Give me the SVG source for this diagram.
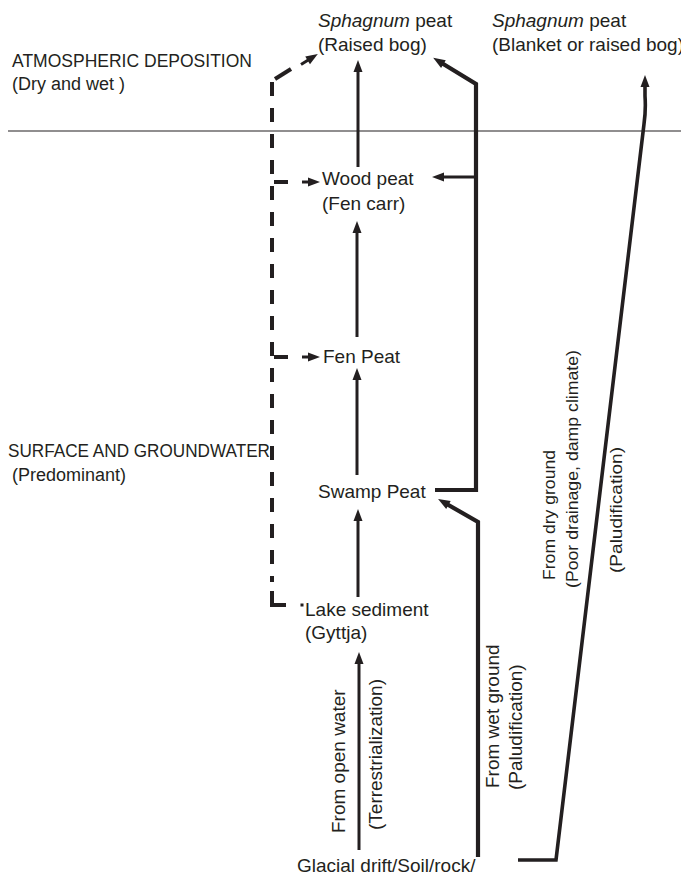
<svg xmlns="http://www.w3.org/2000/svg" width="681" height="881" viewBox="0 0 681 881">
<defs>
<style>
text{font-family:"Liberation Sans",Arial,sans-serif;fill:#231f20}
.n{font-size:19px}
.h{font-size:18px}
.r{font-size:19px}
.c{font-size:17px}
.it{font-style:italic}
.ln{fill:none;stroke:#231f20;stroke-linejoin:miter}
.a{stroke-width:3}
.t{stroke-width:4.2}
.s{stroke-width:4}
.d{stroke-width:4;stroke-dasharray:14 12}
</style>
<marker id="ah" markerUnits="userSpaceOnUse" markerWidth="13" markerHeight="10" refX="4" refY="4.5" orient="auto" overflow="visible">
<path d="M0,0 L12,4.5 L0,9 Z" fill="#231f20"/>
</marker>
</defs>
<rect width="681" height="881" fill="#fff"/>
<line x1="8" y1="131" x2="681" y2="131" stroke="#231f20" stroke-width="1.2"/>

<g id="labels">
<text class="h" x="12" y="67" textLength="240" lengthAdjust="spacingAndGlyphs">ATMOSPHERIC DEPOSITION</text>
<text class="h" x="12" y="90">(Dry and wet )</text>
<text class="h" x="8" y="457" textLength="262" lengthAdjust="spacingAndGlyphs">SURFACE AND GROUNDWATER</text>
<text class="h" x="12" y="481">(Predominant)</text>
</g>

<g id="raised-bog">
<text class="n" x="318" y="27"><tspan class="it">Sphagnum</tspan> peat</text>
<text class="n" x="318" y="51">(Raised bog)</text>
</g>
<g id="blanket-bog">
<text class="n" x="492" y="27"><tspan class="it">Sphagnum</tspan> peat</text>
<text class="n" x="492" y="51" textLength="192" lengthAdjust="spacingAndGlyphs">(Blanket or raised bog)</text>
</g>
<g id="wood-peat">
<text class="n" x="322" y="185">Wood peat</text>
<text class="n" x="322" y="210">(Fen carr)</text>
</g>
<g id="fen-peat">
<text class="n" x="323" y="363">Fen Peat</text>
</g>
<g id="swamp-peat">
<text class="n" x="318" y="498">Swamp Peat</text>
</g>
<g id="lake-sediment">
<text class="n" x="305" y="616">Lake sediment</text>
<text class="n" x="305" y="639">(Gyttja)</text>
</g>
<g id="glacial">
<text class="n" x="297" y="872">Glacial drift/Soil/rock/</text>
</g>

<g id="connectors">
<line class="ln a" x1="358" y1="167" x2="358" y2="68" marker-end="url(#ah)"/>
<line class="ln a" x1="357" y1="337" x2="357" y2="229" marker-end="url(#ah)"/>
<line class="ln a" x1="357" y1="475" x2="357" y2="376" marker-end="url(#ah)"/>
<line class="ln a" x1="358" y1="597" x2="358" y2="517" marker-end="url(#ah)"/>
<line class="ln a" x1="359" y1="850" x2="359" y2="660" marker-end="url(#ah)"/>

<path class="ln d" d="M272,82 V582"/>
<path class="ln s" d="M286,605 H272 V591"/>
<line class="ln s" x1="275" y1="79" x2="291" y2="69"/>
<line class="ln a" x1="301" y1="64.5" x2="311" y2="58.3" marker-end="url(#ah)"/>
<line class="ln s" x1="274" y1="182" x2="288" y2="182"/>
<line class="ln a" x1="302" y1="182" x2="312" y2="182" marker-end="url(#ah)"/>
<line class="ln s" x1="274" y1="357" x2="288" y2="357"/>
<line class="ln a" x1="302" y1="357" x2="312" y2="357" marker-end="url(#ah)"/>
<rect x="300.5" y="603.5" width="3" height="3" fill="#231f20"/>

<path class="ln t" d="M435,490 H476 V84 L440,62" marker-end="url(#ah)"/>
<line class="ln a" x1="476" y1="177" x2="440" y2="177" marker-end="url(#ah)"/>

<path class="ln t" d="M478,857 V522 L445,503" marker-end="url(#ah)"/>

<path class="ln t" style="stroke-width:3.6" d="M518,860 H556 L644,124 Q646,110 645,96 L645,83" marker-end="url(#ah)"/>
</g>

<g id="process-labels">
<text class="r" transform="translate(345,833) rotate(-90)">From open water</text>
<text class="r" transform="translate(382,830) rotate(-90)">(Terrestrialization)</text>
<text class="r" transform="translate(499,788) rotate(-90)">From wet ground</text>
<text class="r" transform="translate(522,790) rotate(-90)">(Paludification)</text>
<text class="c" transform="translate(555,580) rotate(-90)" textLength="130" lengthAdjust="spacingAndGlyphs">From dry ground</text>
<text class="c" transform="translate(578,588) rotate(-90)" textLength="238" lengthAdjust="spacingAndGlyphs">(Poor drainage, damp climate)</text>
<text class="c" transform="translate(622,573) rotate(-90)" textLength="126" lengthAdjust="spacingAndGlyphs">(Paludification)</text>
</g>
</svg>
